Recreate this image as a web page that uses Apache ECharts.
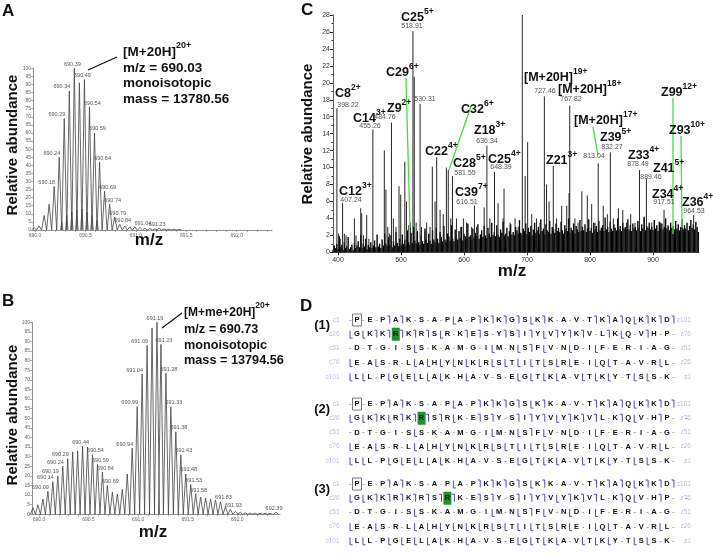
<!DOCTYPE html>
<html><head><meta charset="utf-8">
<script src="https://cdn.jsdelivr.net/npm/echarts@6/dist/echarts.min.js"></script>
<style>html,body{margin:0;padding:0;background:#fff;}#chart{width:713px;height:556px;}</style>
</head><body><div id="chart"></div>
<script>
// ================= DATA =================
// Panel A : [M+20H]20+ isotopic cluster
const aPeakMz  = [689.99,690.04,690.09,690.14,690.19,690.24,690.29,690.34,690.39,690.44,690.49,690.54,690.59,690.64,690.69,690.74,690.79,690.84,690.89,690.94,690.99,691.04,691.09,691.14,691.19,691.23,691.28,691.33,691.38,691.43];
const aPeakInt = [1.5,2.5,9,16,27,45,69,86,100,91,93,76,60,42,24,16,8,3.5,2.5,2,2,1.5,1,1,0.8,1,0.6,0.5,0.5,0.4];
const aMinorMz  = [690.265,690.315,690.365,690.415,690.465,690.515,690.565,690.615];
const aMinorInt = [5,9,11,12,13,11,9,6];
const aLabelMz   = [690.19,690.24,690.29,690.34,690.39,690.49,690.54,690.59,690.64,690.69,690.74,690.79,690.84,691.04,691.23];
const aLabelText = ['690.18','690.24','690.29','690.34','690.39','690.49','690.54','690.59','690.64','690.69','690.74','690.79','690.84','691.04','691.23'];
const abTickLabels = [690.0,690.5,691.0,691.5,692.0];

// Panel B : [M+me+20H]20+ isotopic cluster
const bPeakMz  = [689.94,689.99,690.04,690.09,690.14,690.19,690.24,690.29,690.34,690.39,690.44,690.49,690.54,690.59,690.64,690.69,690.74,690.79,690.84,690.89,690.94,690.99,691.04,691.09,691.14,691.19,691.23,691.28,691.33,691.38,691.43,691.48,691.53,691.58,691.63,691.68,691.73,691.78,691.83,691.88,691.93,691.98,692.03,692.08,692.13,692.18,692.23,692.28,692.33,692.39];
const bPeakInt = [3.5,5,8,12,17,20,25,29,32.5,33,35.5,35,31,26,22,15,11.5,10.5,13,21,34.5,56,73,88,97,100,88.5,73.5,56,43,31,21,15.5,10.5,9,8.5,8,7.5,6.5,4,2.5,1.5,1,0.8,0.6,0.6,0.5,0.5,0.5,1];
const bLabelMz   = [690.09,690.14,690.19,690.24,690.29,690.44,690.54,690.59,690.64,690.69,690.94,690.99,691.04,691.09,691.19,691.23,691.28,691.33,691.38,691.43,691.48,691.53,691.58,691.83,691.93,692.39];
const bLabelText = ['690.09','690.14','690.19','690.24','690.29','690.44','690.54','690.59','690.64','690.69','690.94','690.99','691.04','691.09','691.19','691.23','691.28','691.33','691.38','691.43','691.48','691.53','691.58','691.83','691.93','692.39'];

// Panel C : fragment spectrum
const cPeakMz  = [398.2,401,403.5,407.2,410,412.7,426,428.5,436,437.6,440.5,445.5,449,455.3,473.5,476,479,481.5,484.8,487.8,492,496.8,499.5,506,508.6,512.3,515,518.9,521,524,530.3,532.5,538,540.7,546,549.7,554,556.6,562,567,572,575,579,581.6,588,594.8,599,604,612,616.5,620,632,636.3,641,648.4,654,662,663.5,673,681,686,692.5,697,701,707.5,715,720.6,727.5,731,735,741.7,747,755,763,766.7,767.8,776,781,787,795.7,802.6,808,813,821,827.5,832.3,837,845,852,858,864.6,871.4,878.5,885.7,889.5,898,906,912,917.5,924,932,938.6,947,958.7,964.5,972];
const cPeakInt = [17,2.2,1.6,5.8,2.2,2,4,2,5.2,4.6,2,4.4,1.6,14.5,12,7.4,3,2.2,15.3,4,3,7.8,6.8,10.7,6,3.2,3.5,26.1,20.7,3.5,17.5,3,2.5,3.5,3,10.1,6,11.2,5,4.5,10,9.7,4,9,4,3,4,3.5,3,5.5,3,5.3,12.6,4,9.5,5.8,4,7.5,3.5,4,3,28,9,13,4.5,4,3.5,18.4,8,6,10.2,4,5.5,5.5,7,17.3,4,3.5,7.2,6.7,5.7,3.5,10.5,5.5,4.5,11.8,4,5.2,5,3.5,4.5,3.5,9.7,4,8.7,3.5,3,3.5,5,3,2.5,2.5,3,2.5,4.4,1.5];
const cNoiseStart = 392, cNoiseStep = 2;
const cNoiseInt = [
 0.3,0.8,0.5,1.0,0.4,1.9,0.6,0.9,0.3,1.2,0.5,0.7,1.8,0.4,0.6,0.9,0.3,1.1,0.5,0.8,
 1.3,0.6,2.0,0.5,1.0,0.7,1.6,0.4,0.9,0.6,1.2,0.5,0.8,1.4,0.6,2.1,0.7,1.0,0.5,1.5,
 0.8,2.2,1.0,0.7,1.8,0.9,2.0,0.6,1.3,0.8,2.4,1.1,0.7,1.6,0.9,2.1,1.0,1.5,0.8,2.6,
 1.2,0.9,2.3,1.1,3.0,1.4,1.0,2.5,1.2,0.9,2.0,1.3,1.0,2.8,1.5,1.1,2.2,1.4,1.0,2.6,
 1.5,1.2,2.9,1.6,1.1,2.4,1.8,1.3,3.1,1.5,1.2,2.2,1.9,1.4,3.2,1.6,1.3,2.7,1.8,1.5,
 2.5,1.7,3.0,1.4,2.2,1.9,1.6,3.4,1.8,2.0,1.5,2.8,1.7,2.3,1.9,3.3,1.6,2.1,2.6,1.8,
 3.1,2.0,1.7,2.9,2.2,1.8,3.5,2.0,2.4,1.9,3.2,2.1,1.8,2.7,2.3,3.6,2.0,2.2,2.9,1.9,
 2.5,3.3,2.1,2.4,2.0,3.0,2.6,2.2,3.8,2.3,2.1,2.8,2.5,3.4,2.2,2.9,2.4,3.1,2.0,2.7,
 3.5,2.3,2.6,3.0,2.2,3.9,2.5,2.8,2.1,3.3,2.6,2.4,3.7,2.2,3.0,2.7,2.3,3.4,2.5,2.9,
 2.4,3.6,2.6,2.2,3.2,2.8,2.5,4.0,2.3,2.9,2.6,3.4,2.2,3.1,2.7,2.4,3.8,2.5,3.0,2.6,
 3.3,2.4,2.8,3.9,2.5,2.9,2.3,3.5,2.7,3.1,2.4,3.7,2.6,2.9,3.2,2.5,4.1,2.7,3.0,2.4,
 3.6,2.8,2.5,3.3,2.9,2.6,4.0,2.7,3.1,2.5,3.5,2.8,3.0,2.6,3.9,2.7,3.2,2.5,3.4,2.8,
 3.0,2.6,3.7,2.9,2.5,3.3,2.8,4.2,2.6,3.1,2.9,3.5,2.7,3.0,2.6,3.8,2.8,3.2,2.5,3.6,
 2.9,3.4,2.7,3.0,4.0,2.8,3.2,2.6,3.5,2.9,3.1,2.7,3.7,2.8,3.3,2.6,3.0,3.9,2.7,3.2,
 2.8,3.5,2.6,3.1,3.8,2.9,3.3,2.7,3.6,3.0,2.4];
const cTickLabels = [400,500,600,700,800,900];

// Panel D : sequence coverage maps
const dSeqRows = ['PEPAKSAPAPKKGSKKAVTKAQKKD','GKKRKRSRKESYSIYVYKVLKQVHP','DTGISSKAMGIMNSFVNDIFERIAG','EASRLAHYNKRSTITSREIQTAVRL','LLPGELAKHAVSEGTKAVTKYTSSK'];
const dCLabels = ['c1','c26','c51','c76','c101'];
const dZLabels = ['z101','z76','z51','z26','z1'];
// separators: '-' none, ']' c-ion cleavage, '[' z-ion cleavage (lead + 24 + trail)
const dSites = [
 ['---]]---[-]]]][]---]]][]]]', '[[]]]]][-]]-]]][]]]-][-]--', '-----[-----[-[][-[-[------', '[-[--[[[[[[[[[[[[[-[[---[-', '[[-[[[[[-[---[[[[-[[[-[[--'],
 ['---]]---[-]]]][]---]]][]]]', '[[][]]]][-]]-]]][]]]-][-]--', '-----[-----[-[][-[-[------', '[-[--[[[[[[[[[[[[[-[[---[-', '[[-[[[[[-[---[[[[-[[[-[[--'],
 ['---]]---[-]]]][]---]]][]]]', '[[]]]]]]]-]]-]]][]]]-][-]--', '-----[-----[-[][-[-[------', '[-[--[[[[[[[[[[[[[-[[---[-', '[[-[[[[[-[---[[[[-[[[-[[--']
];
const dModCol = [3,5,7];   // methylated Arg position in row 2 of each map
const dBlockNames = ['(1)','(2)','(3)'];

// ================= RENDER =================
const FONT = '"Liberation Sans", Arial, Helvetica, sans-serif';
const chart = echarts.init(document.getElementById('chart'));

function T(x, y, text, size, opts) {
  return {type:'text', x:x, y:y, silent:true, z:50,
    style:Object.assign({text:text, fontFamily:FONT, fontSize:size, fontWeight:'bold', fill:'#111', align:'left', verticalAlign:'middle'}, opts||{})};
}
function SUP(x, y, base, s, size, ssize, d) {
  const hb = size*1.15, hs = ssize*1.15, L = d + hb/2 + hs/2;
  return {type:'text', x:x, y:y-(L/2-hb/2), silent:true, z:50,
    style:{text:'{b|'+base+'}{s|'+s+'}', align:'left', verticalAlign:'middle',
      rich:{b:{fontFamily:FONT,fontSize:size,fontWeight:'bold',fill:'#111',verticalAlign:'bottom',lineHeight:L},
            s:{fontFamily:FONT,fontSize:ssize,fontWeight:'bold',fill:'#111',verticalAlign:'top',lineHeight:L}}}};
}
function LINE(x1,y1,x2,y2,color,w){return {type:'line', silent:true, z:49, shape:{x1,y1,x2,y2}, style:{stroke:color, lineWidth:w}};}
function ROT(x,y,text,size){return {type:'text', x, y, rotation:Math.PI/2, silent:true, z:50,
  style:{text, fontFamily:FONT, fontSize:size, fontWeight:'bold', fill:'#111', align:'center', verticalAlign:'middle'}};}

function triSeries(xi, mz, inten, half) {
  return {type:'custom', xAxisIndex:xi, yAxisIndex:xi, silent:true,
    data: mz.map((m,i)=>[m, inten[i]]),
    renderItem:(p, api)=>{
      const t = api.coord([api.value(0), api.value(1)]);
      const b = api.coord([api.value(0), 0]);
      return {type:'polyline', shape:{points:[[t[0]-half,b[1]],[t[0],t[1]],[t[0]+half,b[1]]]},
        style:{stroke:'#444', lineWidth:0.8, fill:null}};
    }};
}
function labelSeries(xi, labMz, labText, mz, inten) {
  const info = labMz.map(m=>{
    let i = 0, best = 1e9;
    mz.forEach((v,k)=>{ if (Math.abs(v-m)<best){best=Math.abs(v-m); i=k;} });
    const cur = inten[i], prev = i>0?inten[i-1]:0, next = i<inten.length-1?inten[i+1]:0;
    const side = (cur>=prev && cur>=next) ? 0 : (next>cur ? -1 : 1);
    return [mz[i], cur, side];
  });
  return {type:'custom', xAxisIndex:xi, yAxisIndex:xi, silent:true, data:info,
    renderItem:(p, api)=>{
      const t = api.coord([api.value(0), api.value(1)]);
      const side = api.value(2);
      return {type:'text', x: t[0] + (side<0 ? 1 : side>0 ? 3 : -2), y: t[1]-1,
        style:{text:labText[p.dataIndex], fontFamily:FONT, fontSize:5.5, fill:'#555',
          align: side<0 ? 'right' : 'center', verticalAlign:'bottom'}};
    }};
}
function stickSeries(data, color, w) {
  return {type:'custom', xAxisIndex:2, yAxisIndex:2, silent:true, data:data,
    renderItem:(p, api)=>{
      const t = api.coord([api.value(0), api.value(1)]);
      const b = api.coord([api.value(0), 0]);
      return {type:'line', shape:{x1:t[0],y1:b[1],x2:t[0],y2:t[1]}, style:{stroke:color, lineWidth:w}};
    }};
}

// D items
const dBlockOffset = [0, 5.92, 11.55];
const dItems = [];
dSites.forEach((block, b)=>{
  const off = dBlockOffset[b];
  dItems.push({x:-2.7, y:off+0.4, kind:'blk', text:dBlockNames[b]});
  dItems.push({x:0, y:off, kind:'box'});
  dItems.push({x:dModCol[b], y:off+1, kind:'hl'});
  dSeqRows.forEach((row, r)=>{
    dItems.push({x:-1.35, y:off+r, kind:'cl', text:dCLabels[r]});
    dItems.push({x:25.85, y:off+r, kind:'zl', text:dZLabels[r]});
    for (let k=0;k<row.length;k++) dItems.push({x:k, y:off+r, kind:'res', text:row[k]});
    const s = block[r];
    for (let k=0;k<s.length;k++) dItems.push({x:k-0.5, y:off+r, kind:'sep', text:s[k]});
  });
});
const PURPLE = '#5b3fc8';
function dRender(p, api) {
  const it = dItems[p.dataIndex];
  const c = api.coord([it.x, it.y]);
  const x = c[0], y = c[1];
  switch (it.kind) {
    case 'box': return {type:'rect', shape:{x:x-4.5,y:y-6,width:9,height:12}, style:{fill:null,stroke:'#555',lineWidth:0.8}};
    case 'hl':  return {type:'rect', shape:{x:x-4,y:y-6.5,width:8,height:13}, style:{fill:'#1f8f2f'}};
    case 'blk': return {type:'text', x, y, style:{text:it.text, fontFamily:FONT, fontSize:13, fontWeight:'bold', fill:'#111', align:'center', verticalAlign:'middle'}};
    case 'cl':  return {type:'text', x, y, style:{text:it.text, fontFamily:FONT, fontSize:6.5, fill:'#c2bbe0', align:'right', verticalAlign:'middle'}};
    case 'zl':  return {type:'text', x, y, style:{text:it.text, fontFamily:FONT, fontSize:6.5, fill:'#c2bbe0', align:'right', verticalAlign:'middle'}};
    case 'res': return {type:'text', x, y, style:{text:it.text, fontFamily:FONT, fontSize:7.5, fontWeight:'bold', fill:'#111', align:'center', verticalAlign:'middle'}};
    case 'sep':
      if (it.text === ']') return {type:'polyline', shape:{points:[[x-2,y-4],[x+0.5,y-4],[x+0.5,y+3.5]]}, style:{stroke:PURPLE, lineWidth:1, fill:null}};
      if (it.text === '[') return {type:'polyline', shape:{points:[[x-0.5,y-3.5],[x-0.5,y+4],[x+2,y+4]]}, style:{stroke:PURPLE, lineWidth:1, fill:null}};
      return {type:'text', x, y, style:{text:'-', fontFamily:FONT, fontSize:7, fill:'#555', align:'center', verticalAlign:'middle'}};
  }
}

const smallAxis = {
  axisLine:{show:true, lineStyle:{color:'#777', width:0.8}},
  axisTick:{show:true, length:2, lineStyle:{color:'#777', width:0.6}},
  splitLine:{show:false}
};
const tick01 = []; for (let v=690.0; v<=692.31; v+=0.1) tick01.push(+v.toFixed(1));

const option = {
  animation:false,
  backgroundColor:'#fff',
  grid:[
    {left:33, top:68.3, width:239, height:161.7},
    {left:32, top:322.3, width:248, height:192},
    {left:333, top:15, width:366, height:237.3},
    {left:305.33, top:312.9, width:400.42, height:241.4}
  ],
  xAxis:[
    Object.assign({gridIndex:0, type:'value', min:689.98, max:692.35,
      axisLabel:{customValues:abTickLabels, fontSize:5, color:'#666', margin:3, fontFamily:FONT, formatter:v=>v.toFixed(1)}}, smallAxis,
      {axisTick:{show:true, length:2, customValues:tick01, lineStyle:{color:'#777', width:0.6}}}),
    Object.assign({gridIndex:1, type:'value', min:689.93, max:692.43,
      axisLabel:{customValues:abTickLabels, fontSize:5, color:'#666', margin:3, fontFamily:FONT, formatter:v=>v.toFixed(1)}}, smallAxis,
      {axisTick:{show:true, length:2, customValues:tick01, lineStyle:{color:'#777', width:0.6}}}),
    {gridIndex:2, type:'value', min:392, max:973,
      axisLine:{show:true, lineStyle:{color:'#333', width:0.8}},
      axisTick:{show:true, length:3, customValues:cTickLabels, lineStyle:{color:'#333'}},
      axisLabel:{customValues:cTickLabels, fontSize:7, color:'#333', margin:4, fontFamily:FONT},
      splitLine:{show:false}},
    {gridIndex:3, type:'value', min:-4, max:27, show:false}
  ],
  yAxis:[
    Object.assign({gridIndex:0, type:'value', min:0, max:100, interval:5,
      axisLabel:{fontSize:5, color:'#666', margin:2, fontFamily:FONT}}, smallAxis),
    Object.assign({gridIndex:1, type:'value', min:0, max:100, interval:5,
      axisLabel:{fontSize:5, color:'#666', margin:2, fontFamily:FONT}}, smallAxis),
    {gridIndex:2, type:'value', min:0, max:28, interval:2,
      axisLine:{show:true, lineStyle:{color:'#333', width:0.8}},
      axisTick:{show:true, length:3, lineStyle:{color:'#333'}},
      minorTick:{show:true, splitNumber:2, length:1.5, lineStyle:{color:'#333'}},
      axisLabel:{fontSize:7, color:'#333', margin:3, fontFamily:FONT},
      splitLine:{show:false}},
    {gridIndex:3, type:'value', min:-0.5, max:16.5, inverse:true, show:false}
  ],
  series:[
    triSeries(0, aPeakMz, aPeakInt, 2.5),
    triSeries(0, aMinorMz, aMinorInt, 1.2),
    labelSeries(0, aLabelMz, aLabelText, aPeakMz, aPeakInt),
    triSeries(1, bPeakMz, bPeakInt, 2.5),
    labelSeries(1, bLabelMz, bLabelText, bPeakMz, bPeakInt),
    stickSeries(cNoiseInt.map((v,i)=>[cNoiseStart + i*cNoiseStep, v]), '#000', 1.35),
    stickSeries(cPeakMz.map((m,i)=>[m, cPeakInt[i]]), '#1a1a1a', 0.95),
    {type:'custom', xAxisIndex:3, yAxisIndex:3, silent:true, data:dItems.map(it=>[it.x, it.y]), renderItem:dRender}
  ],
  graphic:[
    T(2,11,'A',17), T(2,301,'B',17), T(301,10,'C',17), T(300,306,'D',17),
    ROT(13,145,'Relative abundance',15), ROT(13,415,'Relative abundance',15), ROT(308,134,'Relative abundance',15),
    T(149,240,'m/z',17,{align:'center'}), T(153,532,'m/z',17,{align:'center'}), T(512,271,'m/z',17,{align:'center'}),
    // A annotation
    SUP(123,52,'[M+20H]','20+',13.5,9,5.5),
    T(123,68.5,'m/z = 690.03',13.5), T(123,83.5,'monoisotopic',13.5), T(123,99,'mass = 13780.56',13.5),
    LINE(88,70,117,57,'#111',1.2),
    // B annotation
    SUP(184,312,'[M+me+20H]','20+',12,8.5,5.5),
    T(184,329.5,'m/z = 690.73',12.7), T(184,345,'monoisotopic',12.7), T(184,360,'mass = 13794.56',12.7),
    LINE(162,328,182,313,'#111',1.2),
    // C green leaders
    LINE(406,78,410,228,'#44dd44',1.3), LINE(471,106,449,170,'#44dd44',1.3),
    LINE(593,127,598,155,'#44dd44',1.3), LINE(673,98,673,234,'#44dd44',1.3), LINE(681,136,682,228,'#44dd44',1.3),
    // C ion annotations
    SUP(401,17,'C25','5+',12.5,8.5,5), SUP(335,93,'C8','2+',12.5,8.5,5), SUP(386,72,'C29','6+',12.5,8.5,5),
    SUP(353,118,'C14','3+',12.5,8.5,5), SUP(387,108,'Z9','2+',12.5,8.5,5), SUP(461,109,'C32','6+',12.5,8.5,5),
    SUP(474,130,'Z18','3+',12.5,8.5,5), SUP(425,151,'C22','4+',12.5,8.5,5), SUP(453,163,'C28','5+',12.5,8.5,5),
    SUP(488,159,'C25','4+',12.5,8.5,5), SUP(455,192,'C39','7+',12.5,8.5,5), SUP(339,191,'C12','3+',12.5,8.5,5),
    SUP(524,77,'[M+20H]','19+',12.5,8.5,5), SUP(558,89,'[M+20H]','18+',12.5,8.5,5), SUP(574,120,'[M+20H]','17+',12.5,8.5,5),
    SUP(600,137,'Z39','5+',12.5,8.5,5), SUP(546,160,'Z21','3+',12.5,8.5,5), SUP(628,155,'Z33','4+',12.5,8.5,5),
    SUP(653,168,'Z41','5+',12.5,8.5,5), SUP(661,92,'Z99','12+',12.5,8.5,5), SUP(669,130,'Z93','10+',12.5,8.5,5),
    SUP(652,194,'Z34','4+',12.5,8.5,5), SUP(682,202,'Z36','4+',12.5,8.5,5),
    // C m/z values
    ...[[412,26,'518.91'],[348,105,'398.22'],[370,126,'455.26'],[385,117,'484.76'],[425,99,'530.31'],[487,141,'636.34'],
        [465,173,'581.55'],[501,167,'648.39'],[467,202,'616.51'],[351,200,'407.24'],[545,91,'727.46'],[571,99,'767.82'],
        [594,156,'813.04'],[612,147,'832.27'],[638,164,'878.49'],[651,177,'889.46'],[664,202,'917.51'],[694,211,'964.53']]
      .map(a=>T(a[0],a[1],a[2],7,{fontWeight:'normal', fill:'#555', align:'center'}))
  ]
};
chart.setOption(option);
</script>
</body></html>
